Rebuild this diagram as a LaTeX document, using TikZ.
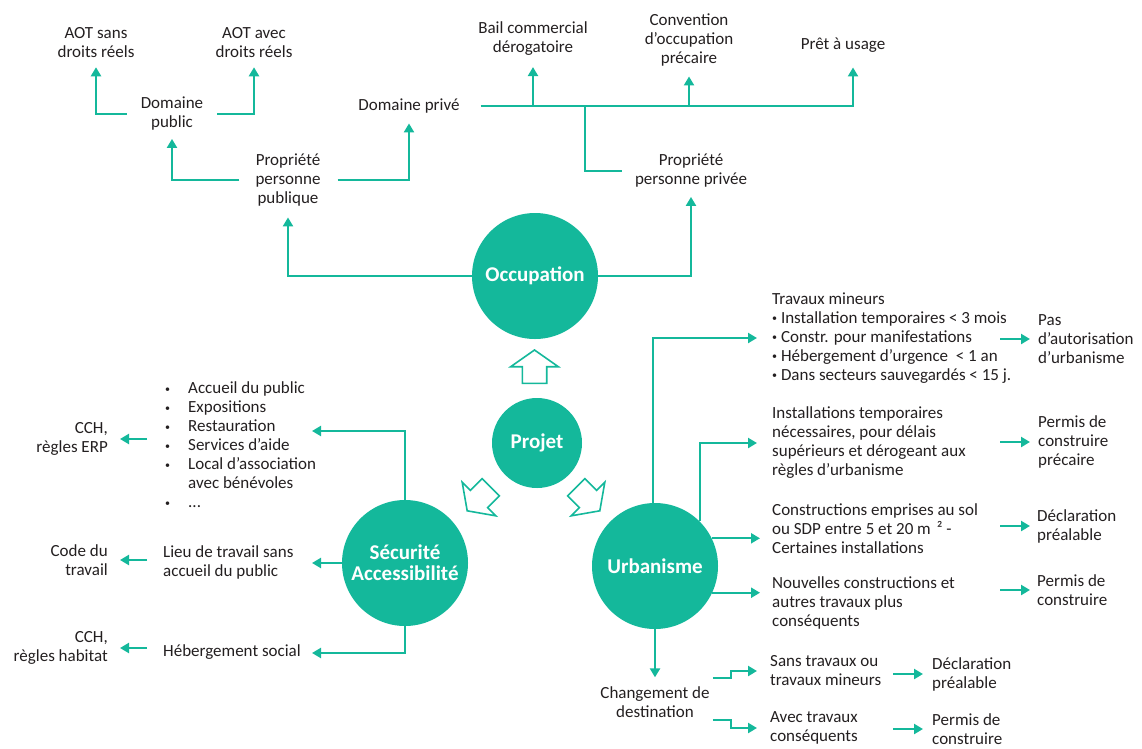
\documentclass[tikz,border=0pt]{standalone}
\usepackage{fontspec}
\setmainfont{Carlito}
\usetikzlibrary{arrows.meta,calc}
\definecolor{teal1}{RGB}{20,184,155}
\definecolor{ink}{RGB}{35,31,32}
\newcommand\sdot{{\fontsize{10}{10}\selectfont\raisebox{1.8pt}{\textbullet}}}
\newcommand\bul{\makebox[23pt][l]{\sdot}}
\begin{document}
\begin{tikzpicture}[x=1pt,y=-1pt,
  txt/.style={font=\fontsize{17}{19}\selectfont, text=ink, inner sep=0pt, align=center},
  lt/.style={txt, align=left, anchor=west},
  rt/.style={txt, align=right, anchor=east},
  hub/.style={circle, fill=teal1, text=white, inner sep=0pt, minimum size=126pt, align=center, font=\fontsize{21}{21}\bfseries\selectfont},
  conn/.style={draw=teal1, line width=2.2pt},
  arr/.style={conn, -{Triangle[length=9pt,width=10pt]}},
  hollow/.style={draw=teal1, line width=1.6pt, fill=white, line join=miter}
]
\useasboundingbox (0,0) rectangle (1142,748);

% ---------- top ----------
\node[txt] (aotsans) at (96,43) {AOT sans\\droits réels};
\node[txt] (aotavec) at (254,43) {AOT avec\\droits réels};
\node[txt] (dompub) at (172,114) {Domaine\\public};
\node[txt] (domprive) at (409,106) {Domaine privé};
\node[txt] (proppub) at (288,180) {Propriété\\personne\\publique};
\node[txt] (bail) at (533,39) {Bail commercial\\dérogatoire};
\node[txt] (conv) at (689,40) {Convention\\d’occupation\\précaire};
\node[txt] (pret) at (843,45) {Prêt à usage};
\node[txt] (proppriv) at (691,171) {Propriété\\personne privée};

% ---------- hubs ----------
\node[hub] (occ) at (535,276) {Occupation};
\node[hub, minimum size=90pt] (projet) at (537,443) {Projet};
\node[hub] (secu) at (405,563) {Sécurité\\Accessibilité};
\node[hub] (urba) at (655,566) {Urbanisme};

% ---------- hollow arrows ----------
\draw[hollow, shift={(534.5,366.7)}] (0,-16.7) -- (23.8,0) -- (12.2,0) -- (12.2,16.6) -- (-12.2,16.6) -- (-12.2,0) -- (-23.8,0) -- cycle;
\draw[hollow, shift={(479,499)}, rotate=135] (0,-16.7) -- (23.8,0) -- (12.2,0) -- (12.2,16.6) -- (-12.2,16.6) -- (-12.2,0) -- (-23.8,0) -- cycle;
\draw[hollow, shift={(588,499)}, rotate=-135] (0,-16.7) -- (23.8,0) -- (12.2,0) -- (12.2,16.6) -- (-12.2,16.6) -- (-12.2,0) -- (-23.8,0) -- cycle;

% ---------- right side ----------
\node[lt] (trav) at (772,338) {Travaux mineurs\\\sdot\ Installation temporaires < 3 mois\\\sdot\ Constr. pour manifestations\\\sdot\ Hébergement d’urgence\ \ < 1 an\\\sdot\ Dans secteurs sauvegardés < 15 j.};
\node[lt] (inst) at (772,443) {Installations temporaires\\nécessaires, pour délais\\supérieurs et dérogeant aux\\règles d’urbanisme};
\node[lt] (constr) at (772,529) {Constructions emprises au sol\\ou SDP entre 5 et 20 m\hspace{6pt}² -\\Certaines installations};
\node[lt] (nouv) at (772,603) {Nouvelles constructions et\\autres travaux plus\\conséquents};
\node[txt] (chg) at (655,702) {Changement de\\destination};
\node[lt] (sans) at (770,671) {Sans travaux ou\\travaux mineurs};
\node[lt] (avec) at (770,728) {Avec travaux\\conséquents};
\node[lt] (pasaut) at (1038,339) {Pas\\d’autorisation\\d’urbanisme};
\node[lt] (pcp) at (1038,442) {Permis de\\construire\\précaire};
\node[lt] (dp1) at (1037,526) {Déclaration\\préalable};
\node[lt] (pc1) at (1037,590) {Permis de\\construire};
\node[lt] (dp2) at (932,674) {Déclaration\\préalable};
\node[lt] (pc2) at (932,729) {Permis de\\construire};

% ---------- left side ----------
\node[lt] (list) at (165,445) {\bul Accueil du public\\\bul Expositions\\\bul Restauration\\\bul Services d’aide\\\bul Local d’association\\\hspace*{23pt}avec bénévoles\\\bul ...};
\node[rt] (cch1) at (108,439) {CCH,\\règles ERP};
\node[lt] (lieu) at (163,562) {Lieu de travail sans\\accueil du public};
\node[rt] (code) at (108,560) {Code du\\travail};
\node[lt] (heb) at (163,652) {Hébergement social};
\node[rt] (cch2) at (108,648) {CCH,\\règles habitat};

% ---------- coordinates ----------
\coordinate (colA) at (1000,0);
\coordinate (colB) at (893,0);
\coordinate (colL) at (147,0);
\coordinate (tipR) at (760,0);
\coordinate (busR) at (853,106);
\coordinate (busJ) at (585,106);
\coordinate (listin) at (312,431);
\coordinate (lieuin) at (312,563);
\coordinate (hebin) at (312,653);

% ---------- occupation connectors ----------
\draw[arr] (occ.west) -| ([yshift=-11pt]proppub.south);
\draw[arr] (occ.east) -| ([yshift=-9pt]proppriv.south);
\draw[arr] ([xshift=-16pt]proppub.west) -| ([yshift=-8pt]dompub.south);
\draw[arr] ([xshift=17pt]proppub.east) -| ([yshift=-10pt]domprive.south);
\draw[arr] ([xshift=-14pt]dompub.west) -| ([yshift=-9pt]aotsans.south);
\draw[arr] ([xshift=14pt]dompub.east) -| ([yshift=-9pt]aotavec.south);
\path ([yshift=-15pt]pret.south) coordinate (pretb);
\draw[arr] ([xshift=21pt]domprive.east) -- (busR) -- (busR |- pretb);
\draw[arr] (bail.south |- busR) -- ([yshift=-11pt]bail.south);
\draw[arr] (conv.south |- busR) -- ([yshift=-10pt]conv.south);
\draw[conn] (busJ) |- ([xshift=-13pt]proppriv.west);

% ---------- urbanisme connectors ----------
\draw[arr] ([xshift=-2pt]urba.north) |- ([xshift=-15pt]trav.west);
\draw[arr] (urba.45) |- ([xshift=-15pt]inst.west);
\draw[arr] (urba.26) -- (urba.26 -| tipR);
\draw[arr] (urba.-25) -- (urba.-25 -| tipR);
\draw[arr] (urba.south) -- ([yshift=9pt]chg.north);
\draw[arr] ([shift={(3pt,24pt)}]chg.east) -- ++(18,0) |- ([xshift=-13pt]sans.west);
\draw[arr] ([shift={(3pt,-18pt)}]chg.east) -- ++(18,0) |- ([xshift=-13pt]avec.west);
\draw[arr] (colA |- pasaut.west) -- ([xshift=-8pt]pasaut.west);
\draw[arr] (colA |- pcp.west) -- ([xshift=-8pt]pcp.west);
\draw[arr] (colA |- dp1.west) -- ([xshift=-7pt]dp1.west);
\draw[arr] (colA |- pc1.west) -- ([xshift=-7pt]pc1.west);
\draw[arr] (colB |- dp2.west) -- ([xshift=-9pt]dp2.west);
\draw[arr] (colB |- pc2.west) -- ([xshift=-9pt]pc2.west);

% ---------- securite connectors ----------
\draw[arr] (secu.north) |- (listin);
\draw[arr] (secu.west) -- (lieuin);
\draw[arr] (secu.south) |- (hebin);
\draw[arr] (colL |- cch1.east) -- ([xshift=12pt]cch1.east);
\draw[arr] (colL |- code.east) -- ([xshift=12pt]code.east);
\draw[arr] (colL |- cch2.east) -- ([xshift=12pt]cch2.east);
\end{tikzpicture}
\end{document}
